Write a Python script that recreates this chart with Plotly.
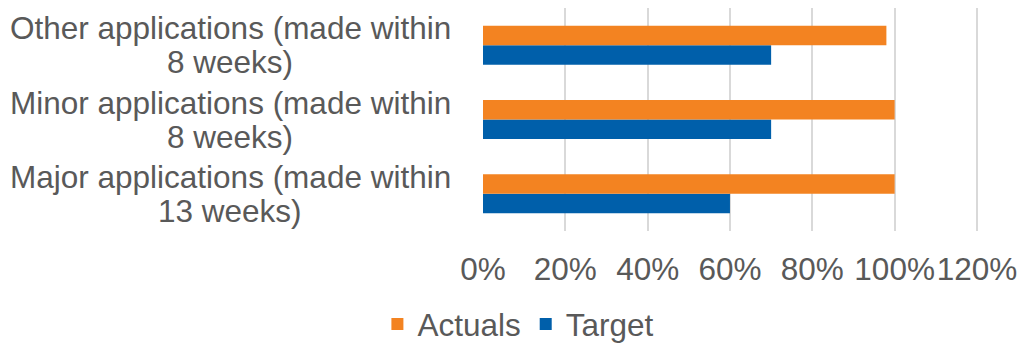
import plotly.graph_objects as go

categories = ["Major applications (made within<br>13 weeks)",
              "Minor applications (made within<br>8 weeks)",
              "Other applications (made within<br>8 weeks)"]
actuals = [1.00, 1.00, 0.98]
target = [0.60, 0.70, 0.70]
tick_vals = [0, 0.2, 0.4, 0.6, 0.8, 1.0, 1.2]
tick_text = ["0%", "20%", "40%", "60%", "80%", "100%", "120%"]

FONT = "Liberation Sans, Arial, sans-serif"
GREY = "#595959"
FS = 31.5

fig = go.Figure()
fig.add_trace(go.Bar(y=categories, x=target, name="Target", orientation="h",
                     marker=dict(color="#005FAA", line=dict(width=0)), legendrank=2))
fig.add_trace(go.Bar(y=categories, x=actuals, name="Actuals", orientation="h",
                     marker=dict(color="#F38321", line=dict(width=0)), legendrank=1))

# category labels, centred, two tight lines each
for c in categories:
    lines = c.split("<br>")
    for i, ln in enumerate(lines):
        fig.add_annotation(x=-0.51, xref="paper", y=c, yref="y", text=ln,
                           showarrow=False, xanchor="center", yanchor="middle",
                           yshift=17 - 34 * i,
                           font=dict(family=FONT, size=FS, color=GREY))

fig.update_layout(
    width=1020, height=344,
    margin=dict(l=483, r=41, t=8, b=113, autoexpand=False),
    paper_bgcolor="white", plot_bgcolor="white",
    barmode="group", bargap=0.475, bargroupgap=0,
    font=dict(family=FONT, size=FS, color=GREY),
    showlegend=True,
    legend=dict(orientation="h", x=0.37, xanchor="left", xref="container",
                y=0.058, yanchor="middle", yref="container",
                font=dict(family=FONT, size=FS, color=GREY), itemwidth=30,
                traceorder="normal"),
    xaxis=dict(range=[0, 1.205], tickvals=tick_vals, ticktext=tick_text,
               tickangle=0, automargin=False,
               showgrid=True, gridcolor="#D9D9D9", gridwidth=2, zeroline=False,
               showline=False, ticks="", ticklabelstandoff=16,
               tickfont=dict(family=FONT, size=FS, color=GREY)),
    yaxis=dict(showticklabels=False, showgrid=False, zeroline=False, showline=False,
               categoryorder="array", categoryarray=categories),
)

fig.write_html("out.html")
